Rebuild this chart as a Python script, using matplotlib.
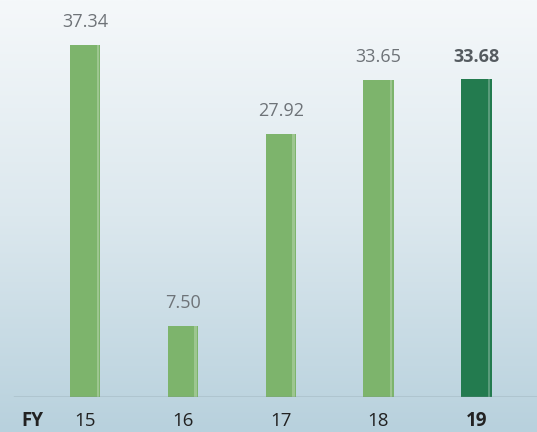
import numpy as np
import matplotlib
matplotlib.use("Agg")
import matplotlib.pyplot as plt
from matplotlib.colors import LinearSegmentedColormap

categories = ["15", "16", "17", "18", "19"]
values = [37.34, 7.50, 27.92, 33.65, 33.68]
value_labels = ["37.34", "7.50", "27.92", "33.65", "33.68"]
colors = ["#7db46c", "#7db46c", "#7db46c", "#7db46c", "#237b4f"]
highlight = [False, False, False, False, True]

plt.rcParams['font.family'] = ['Open Sans', 'DejaVu Sans']

fig = plt.figure(figsize=(5.37, 4.32), dpi=100)

# gradient background
bg = fig.add_axes([0, 0, 1, 1])
cmap = LinearSegmentedColormap.from_list("bg", ["#f5f8fa", "#dce8ee", "#b8d1dd"])
grad = np.linspace(0, 1, 256).reshape(-1, 1)
bg.imshow(grad, aspect='auto', cmap=cmap, extent=[0, 1, 0, 1], origin='upper')
bg.axis('off')

ax = fig.add_axes([0, (432 - 397) / 432, 1, 397 / 432])
ax.patch.set_alpha(0)
x = np.arange(len(categories))
ax.bar(x, values, width=0.31, color=colors, zorder=3)
# faint brush streak along right edge of each bar
ax.bar(x + 0.13, values, width=0.025, color="white", alpha=0.25, zorder=4)
ax.set_xlim(-0.87, 4.62)
ax.set_ylim(0, 42.1)
for s in ax.spines.values():
    s.set_visible(False)
ax.set_yticks([])
ax.set_xticks([])
ax.axhline(0, xmin=14 / 537, xmax=1, color="#7a8a92", lw=1.0, zorder=5)

for xi, v, lab, hl in zip(x, values, value_labels, highlight):
    ax.annotate(lab, (xi, v), xytext=(0, 10), textcoords="offset points",
                ha="center", va="bottom", fontsize=13,
                color="#555b60" if hl else "#6e7378",
                fontweight="bold" if hl else "normal")

for xi, c, hl in zip(x, categories, highlight):
    ax.annotate(c, (xi, 0), xytext=(0, -17), textcoords="offset points",
                ha="center", va="center", fontsize=13.5, color="#222222",
                fontweight="bold" if hl else "normal", annotation_clip=False)
ax.annotate("FY", (0, 0), xycoords=("axes fraction", "data"), xytext=(23, -17),
            textcoords="offset points", ha="center", va="center", fontsize=13.5,
            color="#222222", fontweight="bold", annotation_clip=False)

fig.savefig("out.png", dpi=100)
